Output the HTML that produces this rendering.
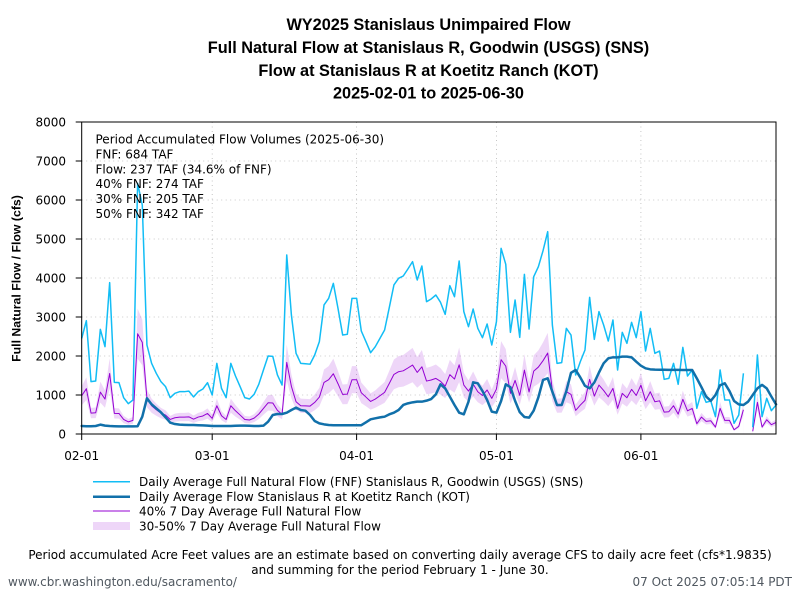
<!DOCTYPE html>
<html>
<head>
<meta charset="utf-8">
<style>
html,body{margin:0;padding:0;background:#fff;}
svg{display:block;}
.t{font-family:"DejaVu Sans","Liberation Sans",sans-serif;font-size:12px;fill:#000;}
.ti{font-family:"Liberation Sans","DejaVu Sans",sans-serif;font-size:16.3px;font-weight:bold;fill:#000;}
</style>
</head>
<body>
<svg width="800" height="600" viewBox="0 0 800 600" xmlns="http://www.w3.org/2000/svg">
<defs>
<polyline id="fnf1" vector-effect="non-scaling-stroke" fill="none" points="0,2450 1,2906 2,1342 3,1359 4,2684 5,2239 6,3880 7,1325 8,1316 9,932 10,778 11,872 12,6427 13,5872 14,2282 15,1812 16,1556 17,1342 18,1214 19,932 20,1043 21,1085 22,1085 23,1100 24,950 25,1085 26,1154 27,1316 28,1000 29,1812 30,1170 31,932 32,1812 33,1487 34,1214 35,932 36,897 37,1017 38,1274 39,1641 40,2000 41,1991 42,1513 43,1256 44,4590 45,3051 46,2068 47,1812 48,1800 49,1790 50,2026 51,2368 52,3308 53,3479 54,3863 55,3222 56,2538 57,2556 58,3479 59,3479 60,2641 61,2368 62,2085 63,2239 64,2453 65,2667 66,3239 67,3821 68,3991 69,4051 70,4231 71,4419 72,3949 73,4308 74,3393 75,3462 76,3564 77,3376 78,3068 79,3803 80,3521 81,4436 82,3137 83,2752 84,3205 85,2709 86,2470 87,2821 88,2282 89,2880 90,4761 91,4350 92,2607 93,3436 94,2479 95,4094 96,2692 97,4034 98,4291 99,4700 100,5188 101,2795 102,1812 103,1829 104,2709 105,2538 106,1513 107,1855 108,2154 109,3504 110,2427 111,3137 112,2795 113,2385 114,2923 115,1641 116,2607 117,2325 118,2863 119,2470 120,3137 121,2128 122,2709 123,2068 124,2128 125,1402 126,1427 127,1812 128,1274 129,2222 130,1487 131,1641 132,658 133,1085 134,812 135,846 136,444 137,1641 138,872 139,872 140,274 141,487 142,1556"/>
<polyline id="fnf2" vector-effect="non-scaling-stroke" fill="none" points="144,171 145,2026 146,444 147,915 148,598 149,744"/>
<polygon id="area" points="0,0 0,2450 1,2906 2,1342 3,1359 4,2684 5,2239 6,3880 7,1325 8,1316 9,932 10,778 11,872 12,6427 13,5872 14,2282 15,1812 16,1556 17,1342 18,1214 19,932 20,1043 21,1085 22,1085 23,1100 24,950 25,1085 26,1154 27,1316 28,1000 29,1812 30,1170 31,932 32,1812 33,1487 34,1214 35,932 36,897 37,1017 38,1274 39,1641 40,2000 41,1991 42,1513 43,1256 44,4590 45,3051 46,2068 47,1812 48,1800 49,1790 50,2026 51,2368 52,3308 53,3479 54,3863 55,3222 56,2538 57,2556 58,3479 59,3479 60,2641 61,2368 62,2085 63,2239 64,2453 65,2667 66,3239 67,3821 68,3991 69,4051 70,4231 71,4419 72,3949 73,4308 74,3393 75,3462 76,3564 77,3376 78,3068 79,3803 80,3521 81,4436 82,3137 83,2752 84,3205 85,2709 86,2470 87,2821 88,2282 89,2880 90,4761 91,4350 92,2607 93,3436 94,2479 95,4094 96,2692 97,4034 98,4291 99,4700 100,5188 101,2795 102,1812 103,1829 104,2709 105,2538 106,1513 107,1855 108,2154 109,3504 110,2427 111,3137 112,2795 113,2385 114,2923 115,1641 116,2607 117,2325 118,2863 119,2470 120,3137 121,2128 122,2709 123,2068 124,2128 125,1402 126,1427 127,1812 128,1274 129,2222 130,1487 131,1641 132,658 133,1085 134,812 135,846 136,444 137,1641 138,872 139,872 140,274 141,487 142,1556 142,0 144,0 144,171 145,2026 146,444 147,915 148,598 149,744 149,0"/>
<mask id="bandmask" maskUnits="userSpaceOnUse" x="0" y="0" width="800" height="600">
<g transform="translate(81.7,434) scale(4.66,-0.0195)"><use href="#area" fill="#fff"/></g>
<g transform="translate(81.7,434) scale(4.66,-0.0117)"><use href="#area" fill="#000"/></g>
</mask>
</defs>

<rect x="0" y="0" width="800" height="600" fill="#fff"/>

<!-- Title -->
<text class="ti" x="428.5" y="30" text-anchor="middle">WY2025 Stanislaus Unimpaired Flow</text>
<text class="ti" x="428.5" y="53" text-anchor="middle">Full Natural Flow at Stanislaus R, Goodwin (USGS) (SNS)</text>
<text class="ti" x="428.5" y="76" text-anchor="middle">Flow at Stanislaus R at Koetitz Ranch (KOT)</text>
<text class="ti" x="428.5" y="98.5" text-anchor="middle">2025-02-01 to 2025-06-30</text>

<!-- Grid -->
<g stroke="#b8b8b8" stroke-width="0.8" stroke-dasharray="1,3.5" fill="none">
<line x1="81.7" y1="161" x2="776" y2="161"/>
<line x1="81.7" y1="200" x2="776" y2="200"/>
<line x1="81.7" y1="239" x2="776" y2="239"/>
<line x1="81.7" y1="278" x2="776" y2="278"/>
<line x1="81.7" y1="317" x2="776" y2="317"/>
<line x1="81.7" y1="356" x2="776" y2="356"/>
<line x1="81.7" y1="395" x2="776" y2="395"/>
<line x1="212.2" y1="122" x2="212.2" y2="434"/>
<line x1="356.6" y1="122" x2="356.6" y2="434"/>
<line x1="496.4" y1="122" x2="496.4" y2="434"/>
<line x1="640.9" y1="122" x2="640.9" y2="434"/>
</g>

<!-- Band 30-50% -->
<rect x="81.7" y="122" width="694.3" height="312" fill="#9400d3" fill-opacity="0.16" mask="url(#bandmask)"/>

<!-- 40% line -->
<g transform="translate(81.7,434) scale(4.66,-0.0156)" stroke="#9400d3" stroke-width="1" stroke-linejoin="round">
<use href="#fnf1"/><use href="#fnf2"/>
</g>

<!-- FNF line -->
<g transform="translate(81.7,434) scale(4.66,-0.039)" stroke="#12bdf5" stroke-width="1.5" stroke-linejoin="round">
<use href="#fnf1"/><use href="#fnf2"/>
</g>

<!-- Flow line -->
<g transform="translate(81.7,434) scale(4.66,-0.039)">
<polyline vector-effect="non-scaling-stroke" fill="none" stroke="#1170aa" stroke-width="2.5" stroke-linejoin="round" stroke-linecap="round" points="0,205 1,200 2,200 3,205 4,240 5,215 6,205 7,200 8,195 9,195 10,195 11,195 12,200 13,444 14,915 15,760 16,658 17,555 18,427 19,290 20,256 21,240 22,235 23,230 24,230 25,225 26,220 27,215 28,205 29,205 30,205 31,205 32,205 33,210 34,215 35,215 36,210 37,205 38,205 39,214 40,316 41,487 42,513 43,513 44,547 45,615 46,675 47,615 48,598 49,487 50,333 51,273 52,248 53,231 54,225 55,225 56,225 57,225 58,225 59,225 60,225 61,299 62,376 63,402 64,427 65,444 66,504 67,547 68,615 69,744 70,786 71,812 72,829 73,829 74,855 75,897 76,1017 77,1274 78,1170 79,957 80,744 81,547 82,504 83,829 84,1325 85,1299 86,1103 87,872 88,573 89,547 90,846 91,1274 92,1200 93,850 94,560 95,435 96,419 97,600 98,940 99,1385 100,1427 101,1085 102,744 103,744 104,1100 105,1570 106,1641 107,1450 108,1235 109,1171 110,1320 111,1577 112,1812 113,1940 114,1966 115,1966 116,1983 117,1983 118,1966 119,1855 120,1752 121,1684 122,1658 123,1650 124,1648 125,1646 126,1645 127,1644 128,1643 129,1642 130,1641 131,1641 132,1427 133,1200 134,960 135,850 136,1000 137,1250 138,1300 139,1103 140,846 141,760 142,744 143,829 144,1000 145,1170 146,1260 147,1170 148,960 149,760"/>
</g>

<!-- Axes frame -->
<rect x="81.7" y="122" width="694.3" height="312" fill="none" stroke="#000" stroke-width="1"/>

<!-- Ticks -->
<g stroke="#000" stroke-width="1">
<line x1="75.7" y1="434" x2="81.7" y2="434"/>
<line x1="75.7" y1="395" x2="81.7" y2="395"/>
<line x1="75.7" y1="356" x2="81.7" y2="356"/>
<line x1="75.7" y1="317" x2="81.7" y2="317"/>
<line x1="75.7" y1="278" x2="81.7" y2="278"/>
<line x1="75.7" y1="239" x2="81.7" y2="239"/>
<line x1="75.7" y1="200" x2="81.7" y2="200"/>
<line x1="75.7" y1="161" x2="81.7" y2="161"/>
<line x1="75.7" y1="122" x2="81.7" y2="122"/>
<line x1="81.7" y1="434" x2="81.7" y2="440"/>
<line x1="212.2" y1="434" x2="212.2" y2="440"/>
<line x1="356.6" y1="434" x2="356.6" y2="440"/>
<line x1="496.4" y1="434" x2="496.4" y2="440"/>
<line x1="640.9" y1="434" x2="640.9" y2="440"/>
</g>

<!-- Y tick labels -->
<text class="t" x="66" y="438.4" text-anchor="end">0</text>
<text class="t" x="66" y="399.4" text-anchor="end">1000</text>
<text class="t" x="66" y="360.4" text-anchor="end">2000</text>
<text class="t" x="66" y="321.4" text-anchor="end">3000</text>
<text class="t" x="66" y="282.4" text-anchor="end">4000</text>
<text class="t" x="66" y="243.4" text-anchor="end">5000</text>
<text class="t" x="66" y="204.4" text-anchor="end">6000</text>
<text class="t" x="66" y="165.4" text-anchor="end">7000</text>
<text class="t" x="66" y="126.4" text-anchor="end">8000</text>

<!-- X tick labels -->
<text class="t" x="81.7" y="460" text-anchor="middle">02-01</text>
<text class="t" x="212.2" y="460" text-anchor="middle">03-01</text>
<text class="t" x="356.6" y="460" text-anchor="middle">04-01</text>
<text class="t" x="496.4" y="460" text-anchor="middle">05-01</text>
<text class="t" x="640.9" y="460" text-anchor="middle">06-01</text>

<!-- Y label -->
<text transform="translate(20.5,278.5) rotate(-90)" text-anchor="middle" style="font-family:'Liberation Sans','DejaVu Sans',sans-serif;font-size:12.3px;font-weight:bold;">Full Natural Flow / Flow (cfs)</text>

<!-- Annotation -->
<text class="t" x="95.5" y="143.5">Period Accumulated Flow Volumes (2025-06-30)</text>
<text class="t" x="95.5" y="158.4">FNF: 684 TAF</text>
<text class="t" x="95.5" y="173.3">Flow: 237 TAF (34.6% of FNF)</text>
<text class="t" x="95.5" y="188.2">40% FNF: 274 TAF</text>
<text class="t" x="95.5" y="203.1">30% FNF: 205 TAF</text>
<text class="t" x="95.5" y="218">50% FNF: 342 TAF</text>

<!-- Legend -->
<line x1="93" y1="481.7" x2="130" y2="481.7" stroke="#12bdf5" stroke-width="1.5"/>
<line x1="93" y1="496.7" x2="130" y2="496.7" stroke="#1170aa" stroke-width="2.5"/>
<line x1="93" y1="511" x2="130" y2="511" stroke="#9400d3" stroke-width="1"/>
<rect x="93" y="522" width="37" height="8" fill="#9400d3" fill-opacity="0.16"/>
<text class="t" x="139" y="486">Daily Average Full Natural Flow (FNF) Stanislaus R, Goodwin (USGS) (SNS)</text>
<text class="t" x="139" y="501">Daily Average Flow Stanislaus R at Koetitz Ranch (KOT)</text>
<text class="t" x="139" y="515.3">40% 7 Day Average Full Natural Flow</text>
<text class="t" x="139" y="530.3">30-50% 7 Day Average Full Natural Flow</text>

<!-- Footer -->
<text class="t" x="400" y="559" text-anchor="middle">Period accumulated Acre Feet values are an estimate based on converting daily average CFS to daily acre feet (cfs*1.9835)</text>
<text class="t" x="400" y="574" text-anchor="middle">and summing for the period February 1 - June 30.</text>
<text class="t" x="8" y="586" style="fill:#505860">www.cbr.washington.edu/sacramento/</text>
<text class="t" x="792" y="586" text-anchor="end" style="fill:#505860">07 Oct 2025 07:05:14 PDT</text>
</svg>
</body>
</html>
